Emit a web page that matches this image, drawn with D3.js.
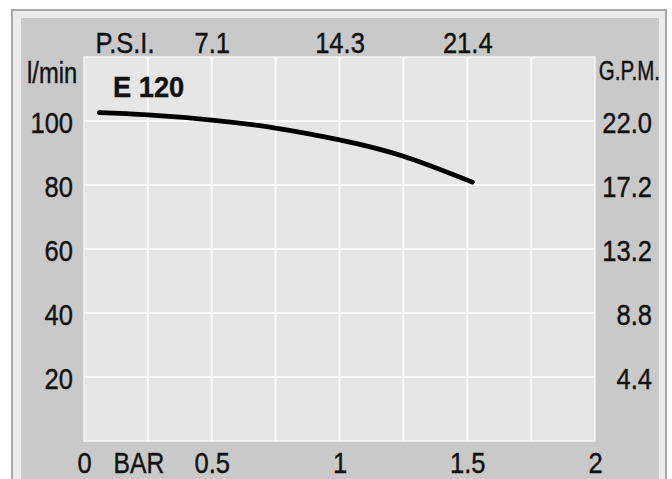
<!DOCTYPE html>
<html>
<head>
<meta charset="utf-8">
<script src="https://cdn.jsdelivr.net/npm/d3@7"></script>
<style>
  html, body { margin: 0; padding: 0; background: #fff; }
  svg { display: block; }
</style>
</head>
<body>
<svg id="chart" width="672" height="479"></svg>
<script>
// pump curve E 120 : flow (l/min) against pressure (bar)
const barTicks = [0, 0.5, 1, 1.5, 2];
const psiTicks = [0.5, 1, 1.5];
const psiLabels = ["7.1", "14.3", "21.4"];
const flowTicks = [20, 40, 60, 80, 100];
const gpmLabels = ["4.4", "8.8", "13.2", "17.2", "22.0"];
const pressure = [0.06, 0.25, 0.5, 0.75, 1.0, 1.25, 1.52];
const flow = [102.6, 101.9, 100.3, 97.8, 94.1, 89.0, 80.9];

const FONT = "'Liberation Sans', Arial, Helvetica, sans-serif";
const SQ = 0.88; // the original type is a bit narrower than Arial

const svg = d3.select("#chart");

// frame
svg.append("rect").attr("x", 12).attr("y", 10).attr("width", 654).attr("height", 480)
  .attr("fill", "#ebebeb").attr("stroke", "#a8a8a8").attr("stroke-width", 2);
svg.append("rect").attr("x", 21).attr("y", 18).attr("width", 638).attr("height", 470)
  .attr("fill", "#c9c9c9");

const x = d3.scaleLinear().domain([0, 2]).range([84, 595]);
const y = d3.scaleLinear().domain([0, 120]).range([441, 57]);

// plot area
svg.append("rect")
  .attr("x", x(0)).attr("y", y(120))
  .attr("width", x(2) - x(0)).attr("height", y(0) - y(120))
  .attr("fill", "#e6e6e6").attr("stroke", "#f4f4f4").attr("stroke-width", 1.5);

// grid
const grid = svg.append("g").attr("stroke", "#fafafa").attr("stroke-width", 2);
grid.selectAll(".vx")
  .data(d3.range(0.25, 2, 0.25))
  .enter().append("line")
  .attr("x1", d => x(d)).attr("x2", d => x(d))
  .attr("y1", y(0)).attr("y2", y(120));
grid.selectAll(".hy")
  .data(flowTicks)
  .enter().append("line")
  .attr("y1", d => y(d)).attr("y2", d => y(d))
  .attr("x1", x(0)).attr("x2", x(2));

function styleAxis(g) {
  g.select(".domain").remove();
  g.attr("font-family", FONT).attr("font-size", 29);
  g.selectAll("text").attr("fill", "#111").attr("stroke", "#111").attr("stroke-width", 0.4)
    .attr("dy", null).attr("x", null).attr("y", null);
}

// bottom (bar)
svg.append("g")
  .attr("transform", `translate(0,${y(0)})`)
  .call(d3.axisBottom(x).tickValues(barTicks).tickSize(0).tickFormat(d3.format("~g")))
  .call(styleAxis)
  .call(g => g.selectAll("text").attr("transform", `translate(0,32) scale(${SQ},1)`));

// top (psi)
svg.append("g")
  .attr("transform", `translate(0,${y(120)})`)
  .call(d3.axisTop(x).tickValues(psiTicks).tickSize(0).tickFormat((d, i) => psiLabels[i]))
  .call(styleAxis)
  .call(g => g.selectAll("text").attr("transform", `translate(0,-4) scale(${SQ},1)`));

// left (l/min)
svg.append("g")
  .attr("transform", `translate(${x(0)},0)`)
  .call(d3.axisLeft(y).tickValues(flowTicks).tickSize(0))
  .call(styleAxis)
  .call(g => g.selectAll("text").attr("text-anchor", "end")
    .attr("transform", `translate(-11,11) scale(${SQ},1)`));

// right (gpm)
svg.append("g")
  .attr("transform", `translate(${x(2)},0)`)
  .call(d3.axisRight(y).tickValues(flowTicks).tickSize(0).tickFormat((d, i) => gpmLabels[i]))
  .call(styleAxis)
  .call(g => g.selectAll("text").attr("text-anchor", "end")
    .attr("transform", `translate(57,11) scale(${SQ},1)`));

// unit labels
function label(txt, px, py, anchor, size, sx, weight) {
  svg.append("text")
    .attr("transform", `translate(${px},${py}) scale(${sx},1)`)
    .attr("text-anchor", anchor)
    .attr("font-family", FONT).attr("font-size", size)
    .attr("font-weight", weight || "normal")
    .attr("fill", "#111").attr("stroke", "#111").attr("stroke-width", 0.4)
    .text(txt);
}
label("P.S.I.", 125, 53, "middle", 29, SQ);
label("l/min", 27, 83, "start", 29, 0.82);
label("G.P.M.", 660, 80, "end", 27, 0.76);
label("BAR", x(0.215), 473, "middle", 29, 0.85);
label("E 120", 113, 97, "start", 29, 0.94, "bold");

// curve
const line = d3.line()
  .x((d, i) => x(pressure[i]))
  .y(d => y(d))
  .curve(d3.curveNatural);
svg.append("path")
  .datum(flow)
  .attr("d", line)
  .attr("fill", "none")
  .attr("stroke", "#000")
  .attr("stroke-width", 4.8)
  .attr("stroke-linecap", "round");
</script>
</body>
</html>
